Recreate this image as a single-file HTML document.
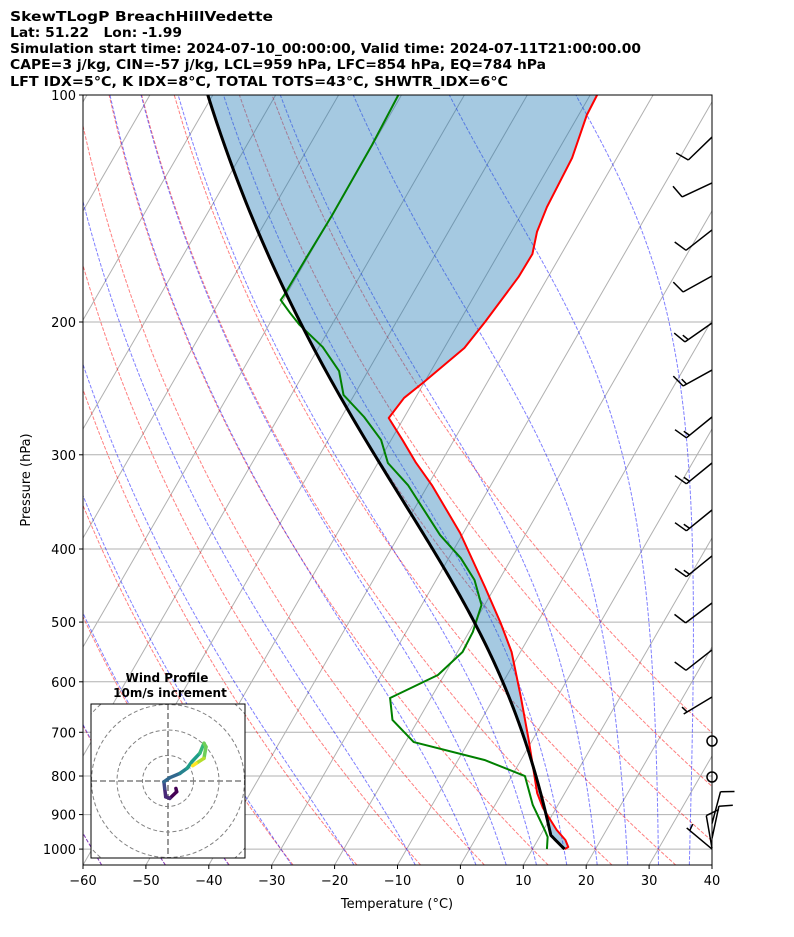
<!DOCTYPE html>
<html><head><meta charset="utf-8"><title>SkewT</title>
<style>
html,body{margin:0;padding:0;background:#fff;}
svg{display:block;font-family:"DejaVu Sans","Liberation Sans",sans-serif;}
</style></head>
<body>
<svg id="chart" width="794" height="937" viewBox="0 0 794 937" xmlns="http://www.w3.org/2000/svg">
<defs>
<clipPath id="plotclip"><rect x="83" y="95" width="629" height="770"/></clipPath>
<clipPath id="hodoclip"><rect x="91" y="704" width="154" height="154"/></clipPath>
</defs>
<g font-weight="bold" font-size="13" fill="#000">
<text x="10" y="21" textLength="263" lengthAdjust="spacingAndGlyphs">SkewTLogP BreachHillVedette</text>
<text x="10" y="37" textLength="172" lengthAdjust="spacingAndGlyphs" xml:space="preserve">Lat: 51.22   Lon: -1.99</text>
<text x="10" y="53" textLength="631" lengthAdjust="spacingAndGlyphs">Simulation start time: 2024-07-10_00:00:00, Valid time: 2024-07-11T21:00:00.00</text>
<text x="10" y="69" textLength="536" lengthAdjust="spacingAndGlyphs">CAPE=3 j/kg, CIN=-57 j/kg, LCL=959 hPa, LFC=854 hPa, EQ=784 hPa</text>
<text x="10" y="86" textLength="498" lengthAdjust="spacingAndGlyphs">LFT IDX=5°C, K IDX=8°C, TOTAL TOTS=43°C, SHWTR_IDX=6°C</text>
</g>
<g id="bg" clip-path="url(#plotclip)"></g>
<g id="series" clip-path="url(#plotclip)"></g>
<rect x="83" y="95" width="629" height="770" fill="none" stroke="#000" stroke-width="1"/>
<g id="axes" font-size="13" fill="#000"></g>
<g id="barbs"></g>
<g id="hodo"></g>
</svg>
<script>
// ---------- data ----------
const tempPressure = [1000,993.7,972.6,943.4,882.1,842.6,716.8,628.5,547.8,501.4,449.2,380.9,329.0,306.7,286.7,268.1,252.2,240.2,216.5,200,174.3,162.5,151.9,140.8,121.2,106.3,100];
const tempValues   = [15.1,15.5,14.4,12.1,7.9,5.6,-0.6,-5.8,-11.4,-15.8,-21.6,-30.5,-39.4,-44.1,-48.2,-52.4,-51.8,-50.1,-46.8,-45.9,-44.7,-44.6,-45.9,-46.6,-47.1,-48.7,-48.9];
const dewPressure  = [1000,963.7,943.4,874.0,800.0,761.8,721.2,674.2,630.4,587.7,547.8,515.4,474.6,439.7,411.2,383.3,329.0,307.6,286.7,267.3,249.9,232.3,215.9,201.8,194.6,187.0,184.2,164.5,144.3,116.5,100];
const dewValues    = [12.3,11.3,10.2,6.0,2.1,-5.8,-18.7,-24.1,-26.5,-21.0,-19.2,-19.4,-20.5,-23.9,-28.1,-33.5,-43.2,-48.4,-51.6,-56.4,-61.7,-64.6,-69.4,-75.1,-77.7,-80.4,-80.3,-80.2,-80.0,-80.1,-80.5];
const barbPressure = [113.7,130.8,151.0,173.8,200.6,231.6,267.3,307.6,355.1,408.6,471.7,544.4,628.5,718.9,802.4,925,968,997,1000];
const barbDir      = [226,245,232,241,235,241,231,231,231,231,233,232,239,0,0,15,12,350,310];
const barbSpeed    = [10,10,10,10,15,15,15,15,15,15,10,10,5,0,0,10,10,10,5];
const hodoU = [3.1,3.4,0.7,-0.9,-1.3,-1.6,0.7,4.7,7.5,9.4,12.5,14.1,14.9,14.1,11.0,9.7];
const hodoV = [-2.9,-4.2,-6.8,-6.2,-2.9,-0.3,1.3,3.0,5.0,7.6,10.9,14.8,13.4,8.9,6.9,6.0];
const xTicks = [-60,-50,-40,-30,-20,-10,0,10,20,30,40];
const yTicks = [100,200,300,400,500,600,700,800,900,1000];
const dryT0 = [-60,-50,-40,-30,-20,-10,0,10,20,30,40,50,60];
const moistT0 = [-60,-50,-40,-30,-20,-10,0,5,10,15,20,25,30,35,40];

// ---------- axes functions ----------
const NS = "http://www.w3.org/2000/svg";
const X0=83, X1=712, Y0=95, Y1=865, PX=6.29, PY=327.5, SK=0.577;
function yP(p){ return Y0 + PY*Math.log(p/100); }
function xT(T,p){ return X0 + (T+60)*PX + SK*(Y1 - yP(p)); }
function mk(tag, attrs, parent){ const e=document.createElementNS(NS,tag); for(const k in attrs) e.setAttribute(k,attrs[k]); if(parent) parent.appendChild(e); return e; }
function pathFrom(ps, ts){ let d=""; for(let i=0;i<ps.length;i++){ d += (i?"L":"M")+xT(ts[i],ps[i]).toFixed(2)+","+yP(ps[i]).toFixed(2); } return d; }

// thermodynamics
function dTdp(p,T){ const es=6.112*Math.exp(17.67*(T-273.15)/(T-29.65)); const rs=0.622*es/(p-es); return (287.04*T+2.501e6*rs)/(1005.7+2.501e6*2.501e6*rs*0.622/(287.04*T*T))/p; }
function moist(TK, p0, p1, n){ const h=(p1-p0)/n; let p=p0, T=TK; const ps=[p], ts=[T-273.15];
  for(let i=0;i<n;i++){ const k1=dTdp(p,T), k2=dTdp(p+h/2,T+h/2*k1), k3=dTdp(p+h/2,T+h/2*k2), k4=dTdp(p+h,T+h*k3);
    T += h/6*(k1+2*k2+2*k3+k4); p += h; ps.push(p); ts.push(T-273.15);} return [ps,ts]; }

const bg=document.getElementById('bg');
yTicks.forEach(p=>{ const l=mk('line',{x1:X0,x2:X1,y1:yP(p),y2:yP(p),stroke:'#b0b0b0','stroke-width':1},bg);
    });
for(let T=-220;T<=40;T+=10){ const l=mk('line',{x1:xT(T,1050),y1:yP(1050),x2:xT(T,100),y2:yP(100),stroke:'#b0b0b0','stroke-width':1},bg);
    }
const pGrid=[]; for(let p=1050;p>=100;p-=10) pGrid.push(p);
dryT0.forEach(t0=>{ const th=t0+273.15; const ts=pGrid.map(p=>th*Math.pow(p/1000,0.2857)-273.15);
  const e=mk('path',{d:pathFrom(pGrid,ts),fill:'none',stroke:'#ff0000','stroke-opacity':0.5,'stroke-width':1,'stroke-dasharray':'3.7,1.6'},bg);
    });
moistT0.forEach(t0=>{ const up=moist(t0+273.15,1000,100,180); const dn=moist(t0+273.15,1000,1050,10);
  const ps=dn[0].slice().reverse().concat(up[0].slice(1)); const ts=dn[1].slice().reverse().concat(up[1].slice(1));
  const e=mk('path',{d:pathFrom(ps,ts),fill:'none',stroke:'#0000ff','stroke-opacity':0.5,'stroke-width':1,'stroke-dasharray':'3.7,1.6'},bg);
    });

// parcel profile
const sfcP=tempPressure[0], sfcT=tempValues[0]+273.15, sfcTd=dewValues[0]+273.15;
const Tlcl=1/(1/(sfcTd-56)+Math.log(sfcT/sfcTd)/800)+56;
const pLcl=sfcP*Math.pow(Tlcl/sfcT,1/0.2857);
const parP=[], parT=[];
for(let i=0;i<=10;i++){ const p=sfcP+(pLcl-sfcP)*i/10; parP.push(p); parT.push(sfcT*Math.pow(p/sfcP,0.2857)-273.15); }
const mp=moist(Tlcl,pLcl,tempPressure[tempPressure.length-1],200);
for(let i=1;i<mp[0].length;i++){ parP.push(mp[0][i]); parT.push(mp[1][i]); }

const series=document.getElementById('series');
let fd=pathFrom(parP,parT); for(let i=tempPressure.length-1;i>=0;i--) fd+="L"+xT(tempValues[i],tempPressure[i]).toFixed(2)+","+yP(tempPressure[i]).toFixed(2); fd+="Z";
const shade=mk('path',{d:fd,fill:'#1f77b4','fill-opacity':0.4,stroke:'none'},series);
 
const tl=mk('path',{d:pathFrom(tempPressure,tempValues),fill:'none',stroke:'#ff0000','stroke-width':2,'stroke-linejoin':'round'},series);
 
const dl=mk('path',{d:pathFrom(dewPressure,dewValues),fill:'none',stroke:'#008000','stroke-width':2,'stroke-linejoin':'round'},series);
 
const pl=mk('path',{d:pathFrom(parP,parT),fill:'none',stroke:'#000','stroke-width':3,'stroke-linejoin':'round'},series);
 

// axes ticks/labels
const ax=document.getElementById('axes');
const mnus=v=>(v<0?"\u2212"+(-v):""+v);
xTicks.forEach(t=>{ const x=X0+(t+60)*PX;
  const tk=mk('line',{x1:x,x2:x,y1:Y1,y2:Y1+4,stroke:'#000','stroke-width':1},ax);
   
  const tx=mk('text',{x:x,y:Y1+20,'text-anchor':'middle'},ax); tx.textContent=mnus(t);
    });
yTicks.forEach(p=>{ const y=yP(p);
  const tk=mk('line',{x1:X0-4,x2:X0,y1:y,y2:y,stroke:'#000','stroke-width':1},ax);
   
  const tx=mk('text',{x:X0-7,y:y+5,'text-anchor':'end'},ax); tx.textContent=p;
    });
const xl=mk('text',{x:397,y:908,'text-anchor':'middle'},ax); xl.textContent="Temperature (°C)";
 
const yl=mk('text',{x:0,y:0,'text-anchor':'middle',transform:'translate(30,480) rotate(-90)'},ax); yl.textContent="Pressure (hPa)";
 

// wind barbs
const bgp=document.getElementById('barbs');
barbPressure.forEach((p,i)=>{ const y=yP(p), x=X1, sp=barbSpeed[i];
  if(sp<=0){ const c=mk('circle',{cx:x,cy:y,r:5,fill:'none',stroke:'#000','stroke-width':1.5},bgp);
      return; }
  const a=barbDir[i]*Math.PI/180; const dx=Math.sin(a), dy=-Math.cos(a); const L=33;
  const tx=x+dx*L, ty=y+dy*L; const px=-dy, py=dx;
  let d="M"+x+","+y+"L"+tx.toFixed(1)+","+ty.toFixed(1);
  let rem=sp, pos=0;
  while(rem>=10){ const bx=tx-dx*pos, by=ty-dy*pos; d+="M"+bx.toFixed(1)+","+by.toFixed(1)+"l"+(14*(0.27*dx+0.96*px)).toFixed(1)+","+(14*(0.27*dy+0.96*py)).toFixed(1); rem-=10; pos+=4; }
  if(rem>=5){ if(pos===0) pos=4; const bx=tx-dx*pos, by=ty-dy*pos; d+="M"+bx.toFixed(1)+","+by.toFixed(1)+"l"+(7*(0.27*dx+0.96*px)).toFixed(1)+","+(7*(0.27*dy+0.96*py)).toFixed(1); }
  const b=mk('path',{d:d,fill:'none',stroke:'#000','stroke-width':1.5},bgp);
    });

// hodograph
const hg=document.getElementById('hodo');
const HX=168, HY=781, HS=2.55;
const ht1=mk('text',{x:167,y:682,'text-anchor':'middle','font-size':12,'font-weight':'bold'},hg); ht1.textContent="Wind Profile";
 
const ht2=mk('text',{x:170,y:697,'text-anchor':'middle','font-size':12,'font-weight':'bold'},hg); ht2.textContent="10m/s increment";
 
const hbg=mk('rect',{x:91,y:704,width:154,height:154,fill:'#fff',stroke:'none'},hg);
 
const hin=mk('g',{'clip-path':'url(#hodoclip)'},hg);
 
[10,20,30,40].forEach(r=>{ const c=mk('circle',{cx:HX,cy:HY,r:r*HS,fill:'none',stroke:'#808080','stroke-width':1,'stroke-dasharray':'4,2.5'},hin);
    });
const ch1=mk('line',{x1:91,x2:245,y1:HY,y2:HY,stroke:'#808080','stroke-width':1.6,'stroke-dasharray':'6,3'},hin);
 
const ch2=mk('line',{x1:HX,x2:HX,y1:704,y2:858,stroke:'#808080','stroke-width':1.6,'stroke-dasharray':'6,3'},hin);
 
const vir=['#440154','#482878','#3e4989','#31688e','#26828e','#1f9e89','#35b779','#6ece58','#b5de2b','#fde725'];
for(let i=0;i<hodoU.length-1;i++){ const c=vir[Math.min(vir.length-1,Math.floor(i/(hodoU.length-2)*(vir.length-1)))];
  const s=mk('line',{x1:HX+hodoU[i]*HS,y1:HY-hodoV[i]*HS,x2:HX+hodoU[i+1]*HS,y2:HY-hodoV[i+1]*HS,stroke:c,'stroke-width':3.5,'stroke-linecap':'round'},hin);
    }
const hfr=mk('rect',{x:91,y:704,width:154,height:154,fill:'none',stroke:'#000','stroke-width':1},hg);
 
</script>
</body></html>
